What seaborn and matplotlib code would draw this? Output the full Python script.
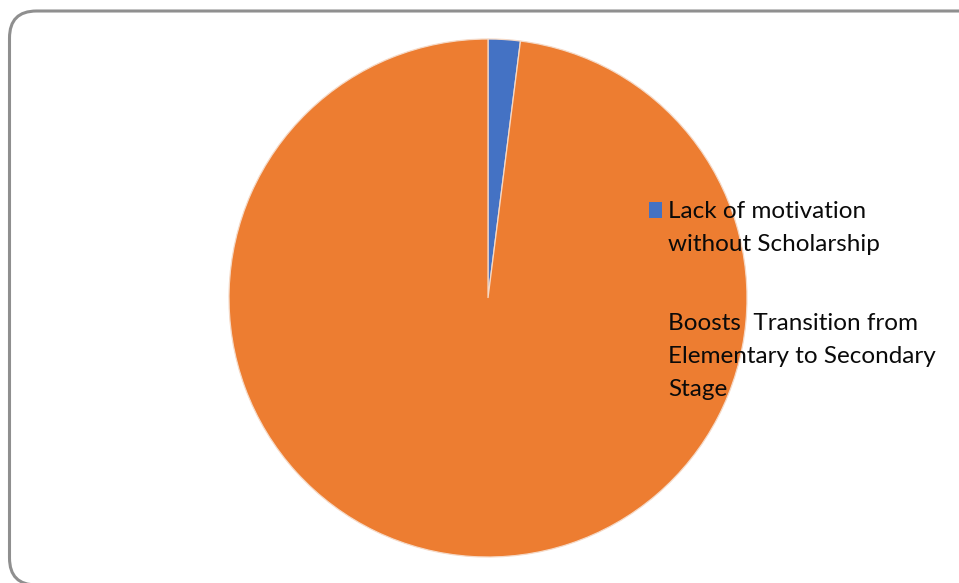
import matplotlib
matplotlib.use("Agg")
import matplotlib.pyplot as plt
from matplotlib.patches import FancyBboxPatch, Rectangle
from matplotlib.transforms import IdentityTransform
import seaborn as sns

# Survey responses on the scholarship (percent)
categories = ["Lack of motivation\nwithout Scholarship",
              "Boosts  Transition from\nElementary to Secondary\nStage"]
shares = [2, 98]
slice_colors = ["#4472C4", "#ED7D31"]

sns.set_theme(style="white")
plt.rcParams["font.family"] = ["Lato", "DejaVu Sans"]

W, H = 959, 583
fig = plt.figure(figsize=(W / 100, H / 100), dpi=100)
fig.patch.set_facecolor("white")


def fx(px):
    return px / W


def fy(py):
    return 1 - py / H


# outer chart frame with rounded corners (pixel units, origin bottom-left)
frame = FancyBboxPatch((9.5, -2), 985, H - 11 + 2,
                       boxstyle="round,pad=0,rounding_size=27",
                       transform=IdentityTransform(), fill=False,
                       edgecolor="#8f8f8f", linewidth=2.2)
fig.patches.append(frame)

# pie area
cx, cy, r = 488, 298, 259
ax = fig.add_axes([fx(cx - r), fy(cy + r), 2 * r / W, 2 * r / H])
ax.pie(shares, colors=slice_colors, startangle=90, counterclock=False,
       radius=1, wedgeprops=dict(edgecolor="#f5d9c6", linewidth=0.9))
ax.set_xlim(-1, 1)
ax.set_ylim(-1, 1)
ax.set_aspect("auto")
ax.axis("off")

# legend entries: square swatch next to the first line of each label
baselines = [218, 330]
line_step = 33
for label, color, base in zip(categories, slice_colors, baselines):
    fig.patches.append(Rectangle((fx(649), fy(base)), 13 / W, 16 / H,
                                 transform=fig.transFigure,
                                 facecolor=color, edgecolor="none"))
    for i, line in enumerate(label.split("\n")):
        fig.text(fx(668), fy(base + i * line_step), line, fontsize=17.5,
                 color="#0a0a0a", va="baseline", ha="left")

fig.savefig("out.png", dpi=100)
